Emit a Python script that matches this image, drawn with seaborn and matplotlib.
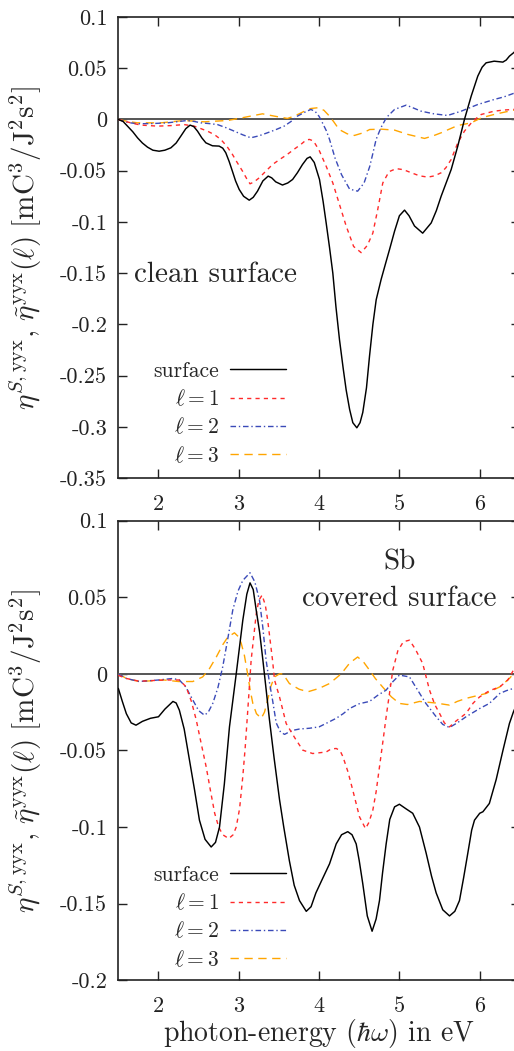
import numpy as np
import pandas as pd
import matplotlib
matplotlib.use("Agg")
import matplotlib.pyplot as plt
import seaborn as sns

# ---------------- data ----------------
top_surf_x = [1.50, 1.56, 1.614, 1.68, 1.74, 1.80, 1.863, 1.93, 2.008, 2.08, 2.154, 2.22, 2.278, 2.34, 2.394,
              2.44, 2.486, 2.54, 2.59, 2.672, 2.755, 2.80, 2.838, 2.88, 2.92, 2.96, 3.005, 3.06, 3.13, 3.18,
              3.233, 3.30, 3.366, 3.41, 3.46, 3.544, 3.61, 3.67, 3.73, 3.793, 3.85, 3.889, 3.94, 4.005, 4.05,
              4.088, 4.13, 4.171, 4.21, 4.254, 4.30, 4.337, 4.38, 4.42, 4.47, 4.51, 4.544, 4.59, 4.628, 4.67,
              4.711, 4.773, 4.83, 4.877, 4.94, 5.00, 5.064, 5.12, 5.188, 5.29, 5.396, 5.46, 5.52, 5.645, 5.727,
              5.81, 5.894, 5.976, 6.03, 6.08, 6.18, 6.288, 6.33, 6.37, 6.42, 6.50]
top_surf_y = [0.000, -0.002, -0.0065, -0.012, -0.018, -0.023, -0.027, -0.030, -0.031, -0.030, -0.0277, -0.023, -0.0163, -0.009, -0.0055,
              -0.007, -0.0114, -0.018, -0.0228, -0.0257, -0.026, -0.028, -0.0325, -0.041, -0.0504, -0.060, -0.0683, -0.075, -0.0788, -0.076,
              -0.070, -0.060, -0.0553, -0.057, -0.0609, -0.064, -0.062, -0.0586, -0.052, -0.044, -0.038, -0.0365, -0.042, -0.0586, -0.080,
              -0.101, -0.125, -0.150, -0.183, -0.215, -0.243, -0.264, -0.283, -0.296, -0.301, -0.296, -0.286, -0.262, -0.231, -0.200,
              -0.176, -0.156, -0.140, -0.127, -0.109, -0.094, -0.0885, -0.094, -0.104, -0.111, -0.101, -0.089, -0.0749, -0.0488, -0.026,
              0.000, 0.0228, 0.0423, 0.051, 0.0553, 0.0569, 0.056, 0.058, 0.0618, 0.065, 0.071]

top_l1_x = [1.50, 1.655, 1.78, 1.99, 2.15, 2.32, 2.445, 2.53, 2.61, 2.70, 2.776, 2.85, 2.92, 2.98, 3.046, 3.10,
            3.14, 3.19, 3.254, 3.33, 3.42, 3.51, 3.606, 3.69, 3.772, 3.84, 3.88, 3.93, 4.00, 4.09, 4.171, 4.25,
            4.337, 4.43, 4.524, 4.60, 4.669, 4.73, 4.793, 4.87, 4.96, 5.05, 5.147, 5.25, 5.354, 5.44, 5.52,
            5.58, 5.645, 5.727, 5.81, 5.914, 6.02, 6.18, 6.30, 6.42, 6.50]
top_l1_y = [0.000, -0.0033, -0.0055, -0.0065, -0.006, -0.005, -0.0065, -0.009, -0.0114, -0.015, -0.0195, -0.026, -0.034, -0.042, -0.0504, -0.058,
            -0.0628, -0.061, -0.057, -0.051, -0.044, -0.039, -0.034, -0.029, -0.0244, -0.020, -0.0195, -0.021, -0.030, -0.046, -0.062, -0.082,
            -0.104, -0.124, -0.130, -0.123, -0.111, -0.088, -0.062, -0.051, -0.048, -0.049, -0.052, -0.055, -0.0563, -0.055, -0.052,
            -0.047, -0.039, -0.0228, -0.0114, -0.0016, 0.0049, 0.0081, 0.0092, 0.0098, 0.010]

top_l2_x = [1.50, 1.62, 1.74, 1.92, 2.112, 2.25, 2.36, 2.45, 2.527, 2.63, 2.735, 2.84, 2.943, 3.05, 3.15, 3.25,
            3.357, 3.46, 3.565, 3.65, 3.731, 3.82, 3.897, 3.95, 4.00, 4.04, 4.09, 4.13, 4.20, 4.28, 4.38, 4.48,
            4.56, 4.63, 4.67, 4.71, 4.77, 4.84, 4.94, 5.085, 5.18, 5.27, 5.43, 5.60, 5.77, 5.976, 6.18, 6.30,
            6.42, 6.50]
top_l2_y = [0.000, -0.003, -0.0042, -0.004, -0.0033, -0.002, -0.001, -0.002, -0.0033, -0.004, -0.005, -0.008, -0.0114, -0.015, -0.0179, -0.016,
            -0.013, -0.010, -0.0065, -0.002, 0.0033, 0.007, 0.0098, 0.008, 0.003, -0.003, -0.011, -0.0195, -0.038, -0.054, -0.068, -0.070,
            -0.062, -0.046, -0.033, -0.0195, -0.008, 0.002, 0.0098, 0.014, 0.011, 0.0081, 0.0055, 0.0039, 0.0081, 0.0146, 0.0195, 0.022,
            0.0254, 0.027]

top_l3_x = [1.50, 1.62, 1.74, 2.03, 2.32, 2.57, 2.86, 3.00, 3.15, 3.295, 3.44, 3.606, 3.68, 3.752, 3.84, 3.897,
            3.98, 4.06, 4.12, 4.18, 4.25, 4.35, 4.44, 4.55, 4.63, 4.78, 4.94, 5.105, 5.313, 5.42, 5.52, 5.62,
            5.727, 5.894, 6.02, 6.18, 6.30, 6.42, 6.50]
top_l3_y = [0.000, -0.002, -0.0033, -0.0033, -0.001, -0.0023, -0.001, 0.001, 0.0033, 0.0055, 0.0033, 0.001, 0.003, 0.0055, 0.009, 0.0107,
            0.0114, 0.009, 0.004, -0.002, -0.0098, -0.014, -0.0156, -0.013, -0.0098, -0.0095, -0.0104, -0.0146, -0.0185, -0.016, -0.013, -0.0095,
            -0.0059, -0.0033, 0.0016, 0.0049, 0.007, 0.009, 0.0095]

bot_surf_x = [1.50, 1.55, 1.60, 1.66, 1.72, 1.80, 1.90, 2.00, 2.08, 2.18, 2.22, 2.26, 2.32, 2.386, 2.45, 2.51,
              2.58, 2.656, 2.71, 2.76, 2.82, 2.884, 2.968, 3.05, 3.10, 3.14, 3.18, 3.217, 3.26, 3.30, 3.34,
              3.382, 3.44, 3.507, 3.56, 3.63, 3.69, 3.756, 3.84, 3.90, 3.96, 4.04, 4.13, 4.213, 4.28, 4.357,
              4.41, 4.462, 4.50, 4.544, 4.60, 4.66, 4.71, 4.752, 4.79, 4.835, 4.88, 4.94, 5.00, 5.08, 5.166,
              5.25, 5.333, 5.40, 5.458, 5.54, 5.624, 5.69, 5.748, 5.80, 5.852, 5.90, 5.935, 6.00, 6.04, 6.12,
              6.205, 6.29, 6.37, 6.42, 6.50]
bot_surf_y = [-0.0095, -0.018, -0.026, -0.032, -0.0335, -0.031, -0.029, -0.028, -0.023, -0.018, -0.019, -0.0237, -0.036, -0.0563, -0.076, -0.0955,
              -0.108, -0.113, -0.110, -0.100, -0.072, -0.0346, 0.000, 0.035, 0.052, 0.0594, 0.055, 0.0416, 0.027, 0.009, -0.010,
              -0.030, -0.055, -0.082, -0.100, -0.122, -0.138, -0.148, -0.155, -0.152, -0.143, -0.134, -0.124, -0.111, -0.105, -0.103,
              -0.105, -0.111, -0.122, -0.137, -0.158, -0.168, -0.160, -0.148, -0.130, -0.111, -0.095, -0.0868, -0.0851, -0.088, -0.091,
              -0.100, -0.117, -0.132, -0.143, -0.154, -0.158, -0.155, -0.148, -0.133, -0.117, -0.102, -0.0955, -0.091, -0.090, -0.0846,
              -0.069, -0.0498, -0.0324, -0.0248, -0.015]

bot_l1_x = [1.50, 1.60, 1.76, 2.07, 2.26, 2.345, 2.41, 2.47, 2.53, 2.594, 2.65, 2.70, 2.75, 2.80, 2.875, 2.93,
            2.968, 3.01, 3.05, 3.08, 3.112, 3.154, 3.217, 3.25, 3.29, 3.33, 3.36, 3.39, 3.42, 3.445, 3.507,
            3.59, 3.70, 3.797, 3.92, 4.088, 4.15, 4.213, 4.26, 4.296, 4.36, 4.42, 4.503, 4.578, 4.62, 4.669,
            4.71, 4.752, 4.80, 4.835, 4.918, 4.98, 5.05, 5.126, 5.20, 5.29, 5.375, 5.44, 5.50, 5.56, 5.624,
            5.70, 5.83, 5.92, 6.00, 6.12, 6.25, 6.35, 6.42, 6.50]
bot_l1_y = [-0.001, -0.003, -0.0048, -0.004, -0.004, -0.0085, -0.018, -0.030, -0.045, -0.0607, -0.077, -0.091, -0.100, -0.105, -0.1075, -0.105,
            -0.100, -0.088, -0.067, -0.048, -0.0237, 0.009, 0.039, 0.048, 0.0514, 0.045, 0.035, 0.022, 0.009, -0.004, -0.015,
            -0.0324, -0.042, -0.0498, -0.052, -0.051, -0.049, -0.0487, -0.050, -0.054, -0.064, -0.076, -0.0933, -0.101, -0.097, -0.089,
            -0.077, -0.0607, -0.042, -0.028, 0.0024, 0.015, 0.021, 0.022, 0.016, 0.0068, -0.0106, -0.020, -0.0258, -0.032, -0.0346,
            -0.031, -0.0258, -0.019, -0.015, -0.011, -0.0085, -0.004, 0.0024, 0.006]

bot_l2_x = [1.50, 1.60, 1.76, 2.00, 2.18, 2.26, 2.34, 2.427, 2.50, 2.573, 2.62, 2.676, 2.74, 2.80, 2.86, 2.925,
            2.99, 3.05, 3.14, 3.20, 3.258, 3.30, 3.34, 3.38, 3.42, 3.466, 3.52, 3.57, 3.66, 3.756, 3.88, 4.00,
            4.10, 4.213, 4.30, 4.38, 4.50, 4.628, 4.73, 4.835, 4.92, 5.00, 5.126, 5.22, 5.33, 5.458, 5.54,
            5.624, 5.72, 5.83, 6.00, 6.12, 6.25, 6.33, 6.42, 6.50]
bot_l2_y = [0.000, -0.003, -0.005, -0.004, -0.003, -0.004, -0.0085, -0.017, -0.024, -0.027, -0.025, -0.0193, -0.009, 0.0046, 0.022, 0.0416,
            0.054, 0.061, 0.066, 0.060, 0.048, 0.030, 0.009, -0.005, -0.017, -0.032, -0.038, -0.0395, -0.037, -0.036, -0.0355, -0.0346,
            -0.032, -0.029, -0.026, -0.0226, -0.0195, -0.018, -0.014, -0.0106, -0.005, -0.0008, -0.002, -0.010, -0.0193, -0.028, -0.033,
            -0.035, -0.032, -0.028, -0.0226, -0.0193, -0.0128, -0.011, -0.0095, -0.008]

bot_l3_x = [1.50, 1.60, 1.76, 2.07, 2.25, 2.427, 2.55, 2.63, 2.72, 2.80, 2.863, 2.946, 3.00, 3.03, 3.07, 3.11,
            3.14, 3.175, 3.22, 3.28, 3.32, 3.36, 3.40, 3.445, 3.507, 3.55, 3.63, 3.75, 3.86, 4.00, 4.13, 4.275,
            4.38, 4.48, 4.55, 4.628, 4.70, 4.79, 4.90, 5.00, 5.10, 5.25, 5.45, 5.624, 5.72, 5.83, 6.08, 6.25,
            6.37, 6.42, 6.50]
bot_l3_y = [0.000, -0.003, -0.005, -0.004, -0.005, -0.005, -0.002, 0.003, 0.011, 0.019, 0.024, 0.0268, 0.024, 0.020, 0.012, 0.000,
            -0.010, -0.0193, -0.026, -0.029, -0.025, -0.017, -0.008, -0.002, 0.000, 0.000, -0.0063, -0.010, -0.0117, -0.0095, -0.0063, 0.000,
            0.007, 0.011, 0.008, 0.0024, -0.003, -0.0085, -0.015, -0.0193, -0.020, -0.018, -0.019, -0.0204, -0.018, -0.016, -0.0128, -0.0085,
            -0.003, 0.000, 0.002]

series_labels = ["surface", r"$\ell=1$", r"$\ell=2$", r"$\ell=3$"]
x_ticks = [2, 3, 4, 5, 6]
x_tick_labels = ["2", "3", "4", "5", "6"]
top_y_ticks = [0.1, 0.05, 0, -0.05, -0.1, -0.15, -0.2, -0.25, -0.3, -0.35]
top_y_tick_labels = ["0.1", "0.05", "0", "-0.05", "-0.1", "-0.15", "-0.2", "-0.25", "-0.3", "-0.35"]
bot_y_ticks = [0.1, 0.05, 0, -0.05, -0.1, -0.15, -0.2]
bot_y_tick_labels = ["0.1", "0.05", "0", "-0.05", "-0.1", "-0.15", "-0.2"]

# ---------------- styling ----------------
sns.set_theme(style="ticks")
plt.rcParams["font.family"] = ["cmr10", "DejaVu Serif"]
plt.rcParams["mathtext.fontset"] = "cm"
plt.rcParams["axes.unicode_minus"] = False
plt.rcParams["axes.formatter.use_mathtext"] = True

colors = ["black", "#ff2a2a", "#3a4ab8", "#ffa500"]
dashes = [None, (3.0, 3.0), (4.0, 2.0, 1.0, 2.0), (6.0, 4.0)]
lws = [1.05, 1.0, 1.0, 1.0]

fig = plt.figure(figsize=(5.14, 10.51), dpi=100)
ax_top = fig.add_axes([0.2302, 0.5452, 0.7812, 0.4386])
ax_bot = fig.add_axes([0.2302, 0.0673, 0.7812, 0.4373])

ylabel = (r"$\eta^{S,\mathrm{yyx}},\,\tilde{\eta}^{\mathrm{yyx}}(\ell)\ "
          r"[\mathrm{mC}^3/\mathrm{J}^2\mathrm{s}^2]$")


def draw(ax, xs, ys, yticks, yticklabels, ylim, leg_top):
    ax.axhline(0, color="#555555", lw=1.4, zorder=1)
    for i, (x, y) in enumerate(zip(xs, ys)):
        df = pd.DataFrame({"x": x, "y": y})
        sns.lineplot(data=df, x="x", y="y", ax=ax, color=colors[i], lw=lws[i],
                     estimator=None, sort=False, zorder=3 - i * 0.1)
        line = ax.lines[-1]
        if dashes[i] is not None:
            line.set_dashes(dashes[i])
    ax.set_xlim(1.5, 6.5)
    ax.set_ylim(*ylim)
    ax.set_xticks(x_ticks)
    ax.set_xticklabels(x_tick_labels)
    ax.set_yticks(yticks)
    ax.set_yticklabels(yticklabels)
    ax.tick_params(direction="in", length=6.5, width=1.0, top=True, right=True,
                   labelsize=16, colors="#222222")
    ax.tick_params(axis="y", pad=8)
    ax.tick_params(axis="x", pad=12)
    for s in ax.spines.values():
        s.set_linewidth(1.2)
        s.set_color("#222222")
        s.set_visible(True)
    ax.set_xlabel("")
    ax.set_ylabel(ylabel, fontsize=21)
    ax.yaxis.set_label_coords(-0.185, 0.5)
    handles = ax.lines[1:5]
    leg = ax.legend(handles, series_labels, loc="upper right",
                    bbox_to_anchor=(0.418, leg_top),
                    frameon=False, markerfirst=False, fontsize=15.5,
                    handlelength=2.6, handletextpad=0.5, labelspacing=0.36,
                    borderpad=0.0, borderaxespad=0.0)
    return leg


draw(ax_top, [top_surf_x, top_l1_x, top_l2_x, top_l3_x],
     [top_surf_y, top_l1_y, top_l2_y, top_l3_y], top_y_ticks, top_y_tick_labels, (-0.35, 0.1), 0.253)
ax_top.text(1.70, -0.152, "clean surface", fontsize=21, ha="left", va="center")

draw(ax_bot, [bot_surf_x, bot_l1_x, bot_l2_x, bot_l3_x],
     [bot_surf_y, bot_l1_y, bot_l2_y, bot_l3_y], bot_y_ticks, bot_y_tick_labels, (-0.2, 0.1), 0.25)
ax_bot.text(5.0, 0.0729, "Sb", fontsize=21, ha="center", va="center")
ax_bot.text(5.0, 0.0488, "covered surface", fontsize=21, ha="center", va="center")
ax_bot.set_xlabel(r"photon-energy $(\hbar\omega)$ in eV", fontsize=20, labelpad=0.5)

fig.savefig("out.png", dpi=100)
